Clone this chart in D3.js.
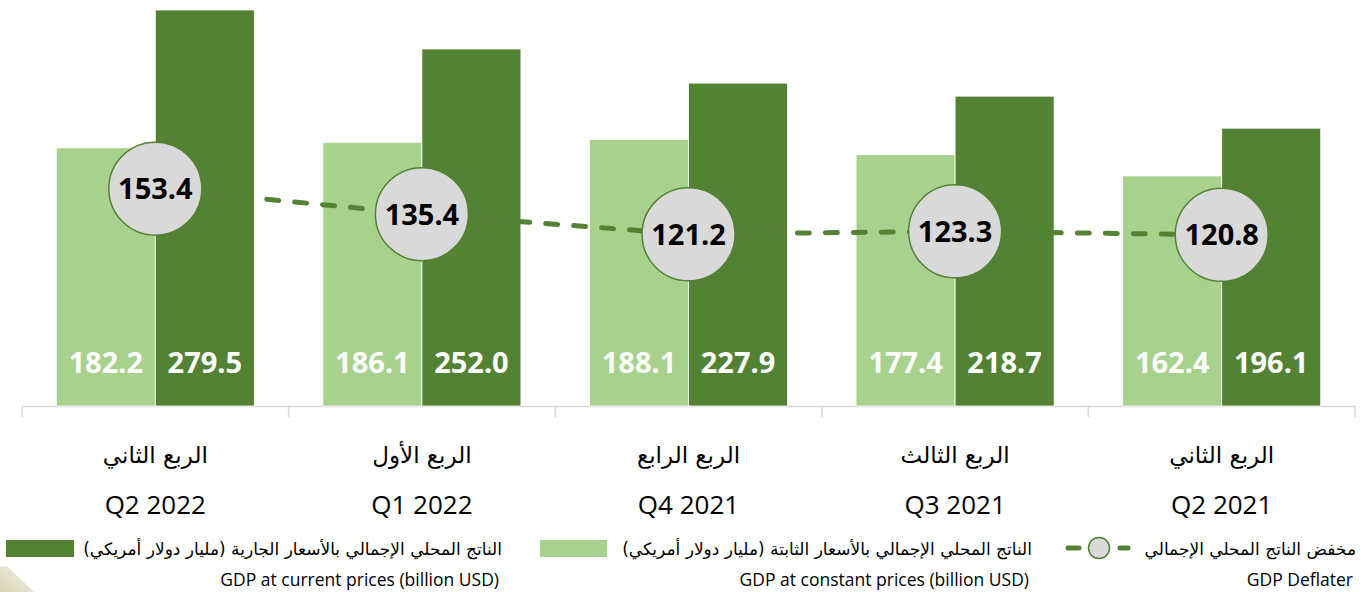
<!DOCTYPE html>
<html>
<head>
  <meta charset="utf-8">
  <title>GDP quarterly</title>
  <style>
    body { margin: 0; background: #fff; }
    svg { display: block; }
    .num { font-family: "Noto Sans", "Open Sans", sans-serif; font-weight: 700; }
    .en { font-family: "Open Sans", "Noto Sans", sans-serif; }
    .ar { font-family: "DejaVu Sans", sans-serif; }
  </style>
</head>
<body>
  <div id="chart"></div>

  <script src="https://cdn.jsdelivr.net/npm/d3@7"></script>
  <script>
    // data (right-to-left report, newest quarter first)
    const quartersEn = ['Q2 2022', 'Q1 2022', 'Q4 2021', 'Q3 2021', 'Q2 2021'];
    const quartersAr = ['الربع الثاني', 'الربع الأول', 'الربع الرابع', 'الربع الثالث', 'الربع الثاني'];
    const gdpConstant = [182.2, 186.1, 188.1, 177.4, 162.4];
    const gdpCurrent = [279.5, 252.0, 227.9, 218.7, 196.1];
    const gdpDeflator = [153.4, 135.4, 121.2, 123.3, 120.8];
    const seriesKeys = ['constant', 'current'];

    const legendAr = [
      'الناتج المحلي الإجمالي بالأسعار الجارية (مليار دولار أمريكي)',
      'الناتج المحلي الإجمالي بالأسعار الثابتة (مليار دولار أمريكي)',
      'مخفض الناتج المحلي الإجمالي'
    ];
    const legendEn = [
      'GDP at current prices (billion USD)',
      'GDP at constant prices (billion USD)',
      'GDP Deflater'
    ];

    const darkGreen = '#548235';
    const lightGreen = '#a9d18e';

    function translate(x, y) {
      return 'translate(' + x + ',' + y + ')';
    }

    const width = 1370, height = 592;

    const svg = d3.select('#chart')
      .append('svg')
        .attr('width', width)
        .attr('height', height);

    // faint page decoration, bottom-left corner
    const grad = svg.append('defs').append('linearGradient')
      .attr('id', 'deco').attr('x1', 0).attr('y1', 1).attr('x2', 1).attr('y2', 0);
    grad.append('stop').attr('offset', 0).attr('stop-color', '#d9d4b4');
    grad.append('stop').attr('offset', 1).attr('stop-color', '#f4f2e8');
    svg.append('path')
      .attr('d', 'M0,567 L7,566 L34,592 L0,592 Z')
      .attr('fill', 'url(#deco)');

    const rows = quartersEn.map((q, i) => ({
      q: q, ar: quartersAr[i],
      constant: gdpConstant[i], current: gdpCurrent[i], deflator: gdpDeflator[i]
    }));

    // scales
    const x0 = d3.scaleBand()
      .domain(quartersEn)
      .range([22, 1355])
      .padding(0);

    const x1 = d3.scaleBand()
      .domain(seriesKeys)
      .range([0, x0.bandwidth()])
      .paddingInner(0)
      .paddingOuter(0.346);

    const y = d3.scaleLinear()
      .domain([0, 279.5])
      .range([406, 10]);

    const color = d3.scaleOrdinal().domain(seriesKeys).range([lightGreen, darkGreen]);

    // axis: line plus ticks on band edges
    const axis = svg.append('g').attr('class', 'axis');
    axis.append('line')
      .attr('x1', x0.range()[0]).attr('x2', x0.range()[1])
      .attr('y1', y(0) + 0.5).attr('y2', y(0) + 0.5)
      .attr('stroke', '#d9d9d9').attr('stroke-width', 1.5);
    const edges = quartersEn.map(q => x0(q)).concat([x0.range()[1]]);
    axis.selectAll('line.tick')
      .data(edges)
      .enter()
      .append('line')
        .attr('class', 'tick')
        .attr('x1', d => d).attr('x2', d => d)
        .attr('y1', y(0)).attr('y2', y(0) + 11)
        .attr('stroke', '#d9d9d9').attr('stroke-width', 1.5);

    // category labels
    const cats = svg.append('g')
      .selectAll('g')
      .data(rows)
      .enter()
      .append('g')
        .attr('transform', d => translate(x0(d.q) + x0.bandwidth() / 2, 0));
    cats.append('text')
      .attr('class', 'ar')
      .attr('direction', 'rtl')
      .attr('y', 463)
      .attr('text-anchor', 'middle')
      .attr('font-size', 23)
      .attr('fill', '#000')
      .text(d => d.ar);
    cats.append('text')
      .attr('class', 'en')
      .attr('y', 514)
      .attr('text-anchor', 'middle')
      .attr('font-size', 26)
      .attr('fill', '#000')
      .text(d => d.q);

    const groups = svg.append('g')
      .selectAll('g')
      .data(rows)
      .enter()
      .append('g')
        .attr('transform', d => translate(x0(d.q), 0));

    function drawBars(key) {
      groups.append('rect')
        .attr('x', x1(key))
        .attr('width', x1.bandwidth())
        .attr('y', d => y(d[key]))
        .attr('height', d => y(0) - y(d[key]))
        .attr('fill', color(key))
        .attr('stroke', '#fff')
        .attr('stroke-width', 0.8);
    }

    // constant-price bars sit under the deflater line, current-price bars over it
    drawBars('constant');

    const line = d3.line()
      .x(d => x0(d.q) + x0.bandwidth() / 2)
      .y(d => y(d.deflator));
    svg.append('path')
      .datum(rows)
      .attr('d', line)
      .attr('fill', 'none')
      .attr('stroke', darkGreen)
      .attr('stroke-width', 5)
      .attr('stroke-linecap', 'round')
      .attr('stroke-dasharray', '12 16');

    drawBars('current');

    // bar value labels
    seriesKeys.forEach(key => {
      groups.append('text')
        .attr('class', 'num')
        .attr('x', x1(key) + x1.bandwidth() / 2)
        .attr('y', y(0) - 33)
        .attr('text-anchor', 'middle')
        .attr('font-size', 29)
        .attr('fill', '#fff')
        .text(d => d3.format('.1f')(d[key]));
    });

    // deflater markers
    const dots = svg.append('g')
      .selectAll('g')
      .data(rows)
      .enter()
      .append('g')
        .attr('transform', d => translate(x0(d.q) + x0.bandwidth() / 2, y(d.deflator)));
    dots.append('circle')
      .attr('r', 46.5)
      .attr('fill', '#d9d9d9')
      .attr('stroke', darkGreen)
      .attr('stroke-width', 1.5);
    dots.append('text')
      .attr('class', 'num')
      .attr('dy', '0.36em')
      .attr('text-anchor', 'middle')
      .attr('font-size', 29)
      .attr('fill', '#000')
      .text(d => d3.format('.1f')(d.deflator));

    // legend
    const legend = svg.append('g');
    const legendRight = [502, 1032, 1356];

    legend.append('rect')
      .attr('x', 6).attr('y', 540).attr('width', 68).attr('height', 17)
      .attr('fill', darkGreen);
    legend.append('rect')
      .attr('x', 540).attr('y', 540).attr('width', 67).attr('height', 17)
      .attr('fill', lightGreen);

    legend.append('line')
      .attr('x1', 1068).attr('x2', 1079).attr('y1', 548).attr('y2', 548)
      .attr('stroke', darkGreen).attr('stroke-width', 5).attr('stroke-linecap', 'round');
    legend.append('line')
      .attr('x1', 1120).attr('x2', 1128).attr('y1', 548).attr('y2', 548)
      .attr('stroke', darkGreen).attr('stroke-width', 5).attr('stroke-linecap', 'round');
    legend.append('circle')
      .attr('cx', 1099).attr('cy', 548).attr('r', 10.5)
      .attr('fill', '#d9d9d9').attr('stroke', darkGreen).attr('stroke-width', 1.5);

    legend.selectAll('text.lar')
      .data(legendAr)
      .enter()
      .append('text')
        .attr('class', 'ar lar')
        .attr('direction', 'rtl')
        .attr('x', (d, i) => legendRight[i])
        .attr('y', 555)
        .attr('text-anchor', 'start')
        .attr('font-size', 17)
        .attr('fill', '#000')
        .text(d => d);

    legend.selectAll('text.len')
      .data(legendEn)
      .enter()
      .append('text')
        .attr('class', 'en len')
        .attr('x', (d, i) => legendRight[i] - 3)
        .attr('y', 586)
        .attr('text-anchor', 'end')
        .attr('font-size', 17.5)
        .attr('fill', '#000')
        .text(d => d);
  </script>
</body>
</html>
